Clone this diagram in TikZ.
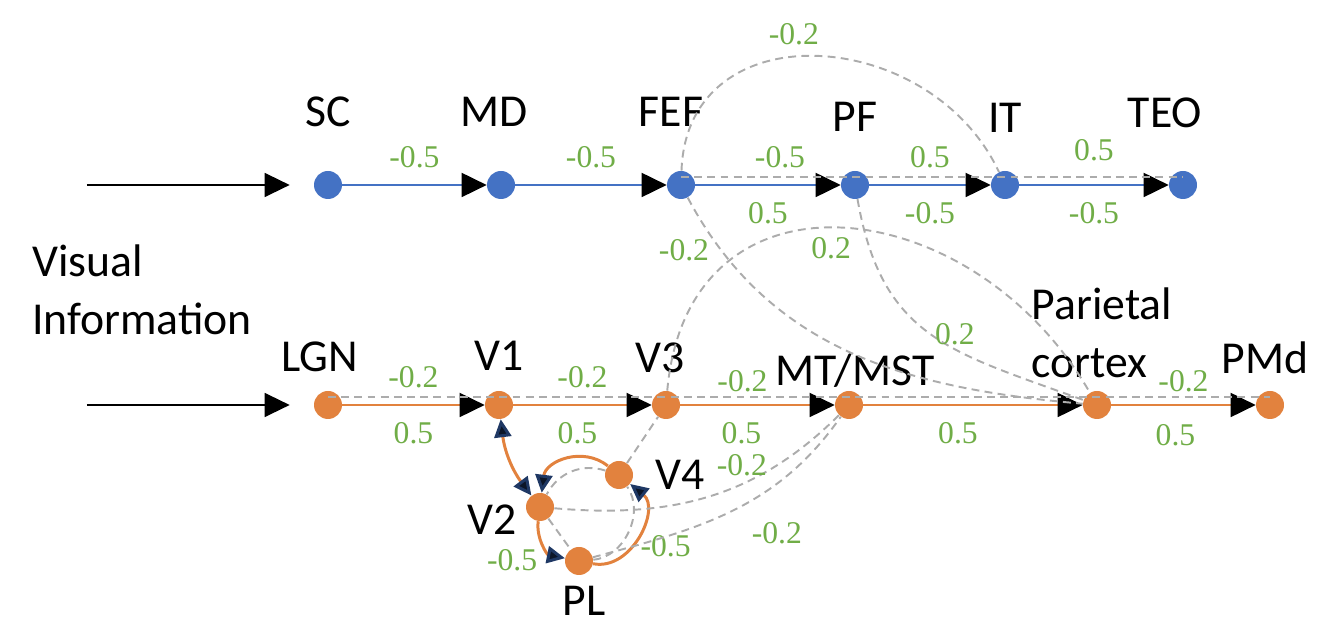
\documentclass[tikz,border=0pt]{standalone}
\usepackage{fontspec}
\setmainfont{Liberation Serif}
\newfontfamily\namefont{Carlito}
\newfontfamily\numfont{Liberation Serif}
\usepackage{tikz}
\usetikzlibrary{arrows.meta,positioning}
\definecolor{dotblue}{HTML}{4472C4}
\definecolor{dotorange}{HTML}{E2823E}
\definecolor{wtgreen}{HTML}{70AD47}
\definecolor{tipnavy}{HTML}{1F3864}
\tikzset{Nv/.tip={Triangle[length=0.36cm, width=0.34cm, color=tipnavy, fill=black!60!tipnavy]}}

\begin{document}
\begin{tikzpicture}[
  dotb/.style={circle, fill=dotblue, minimum size=0.56cm, inner sep=0pt},
  doto/.style={circle, fill=dotorange, minimum size=0.56cm, inner sep=0pt},
  area/.style={font=\namefont\fontsize{26}{33}\selectfont, inner sep=1pt},
  wt/.style={font=\numfont\fontsize{18}{20}\selectfont, text=wtgreen, inner sep=1pt},
  wu/.style={wt, yshift=0.56cm},
  wd/.style={wt, yshift=-0.56cm},
  fb/.style={draw=gray!65, dash pattern=on 4.5pt off 3pt, line width=1.1pt},
  blu/.style={draw=dotblue, line width=1.1pt, ->},
  org/.style={draw=dotorange, line width=1.1pt, ->},
  cyc/.style={draw=dotorange, line width=1.7pt, -Nv},
  >={Triangle[length=0.5cm, width=0.48cm, color=black]},
  on grid
]
\useasboundingbox (-6.56,3.70) rectangle (19.88,-9.10);

% dorsal row
\node[dotb] (sc) at (0,0) {};
\node[dotb, right=3.46cm of sc] (md) {};
\node[dotb, right=3.6cm of md] (fef) {};
\node[dotb, right=3.48cm of fef] (pf) {};
\node[dotb, right=3.0cm of pf] (it) {};
\node[dotb, right=3.56cm of it] (teo) {};

% ventral row and the V2/V4/PL loop
\node[doto, below=4.4cm of sc] (lgn) {};
\node[doto, right=3.42cm of lgn] (v1) {};
\node[doto, right=3.34cm of v1] (v3) {};
\node[doto, right=3.66cm of v3] (mt) {};
\node[doto, right=4.96cm of mt] (par) {};
\node[doto, right=3.46cm of par] (pmd) {};
\node[doto, below right=2.04cm and 0.82cm of v1] (v2) {};
\node[doto, above right=0.64cm and 1.58cm of v2] (v4) {};
\node[doto, below right=1.08cm and 0.78cm of v2] (pl) {};

% names
\node[area, above=1.46cm of sc] (scT) {SC};
\node[area, above=1.46cm of md, xshift=-0.14cm] (mdT) {MD};
\node[area, above=1.46cm of fef, xshift=-0.2cm] (fefT) {FEF};
\node[area, above=1.36cm of pf] (pfT) {PF};
\node[area, above=1.34cm of it] (itT) {IT};
\node[area, above=1.44cm of teo, xshift=-0.36cm] (teoT) {TEO};
\node[area, above=0.96cm of lgn, xshift=-0.16cm] (lgnT) {LGN};
\node[area, above=0.98cm of v1] (v1T) {V1};
\node[area, above=0.94cm of v3, xshift=-0.12cm] (v3T) {V3};
\node[area, above=0.68cm of mt, xshift=0.12cm] (mtT) {MT/MST};
\node[area, align=left, above=1.44cm of par, xshift=0.1cm] (parT) {Parietal\\cortex};
\node[area, above=0.94cm of pmd, xshift=-0.1cm] (pmdT) {PMd};
\node[area, left=0.96cm of v2, yshift=-0.26cm] (v2T) {V2};
\node[area, right=1.22cm of v4] (v4T) {V4};
\node[area, below=0.8cm of pl, xshift=0.1cm] (plT) {PL};
\node[area, align=left, anchor=west] (visT) at (-5.96,-2.1) {Visual\\Information};

% input
\coordinate[left=4.82cm of sc] (in1);
\coordinate[left=4.82cm of lgn] (in2);
\draw[->, line width=0.8pt, shorten >=0.48cm] (in1) -- (sc);
\draw[->, line width=0.8pt, shorten >=0.48cm] (in2) -- (lgn);

% feedforward
\draw[blu] (sc) -- node[wu] {-0.5} (md);
\draw[blu] (md) -- node[wu] {-0.5} (fef);
\draw[blu] (fef) -- node[wu, xshift=0.24cm] {-0.5} node[wd] {0.5} (pf);
\draw[blu] (pf) -- node[wu] {0.5} node[wd] {-0.5} (it);
\draw[blu] (it) -- node[wu, yshift=0.14cm] {0.5} node[wd] {-0.5} (teo);
\draw[org] (lgn) -- node[wu] {-0.2} node[wd] {0.5} (v1);
\draw[org] (v1) -- node[wu] {-0.2} node[wd, xshift=-0.1cm] {0.5} (v3);
\draw[org] (v3) -- node[wu, xshift=-0.3cm, yshift=-0.08cm] {-0.2} node[wd, xshift=-0.32cm] {0.5} (mt);
\draw[org] (mt) -- node[wd, xshift=-0.3cm] {0.5} (par);
\draw[org] (par) -- node[wu, yshift=-0.08cm] {-0.2} node[wd, xshift=-0.16cm, yshift=-0.04cm] {0.5} (pmd);

% loop
\draw[cyc, Nv-Nv] (v1) to[bend right=15] (v2);
\draw[cyc] (v4) to[bend right=61, looseness=1.15] (v2);
\draw[cyc] (v2) to[bend right=43] node[wt, xshift=-0.64cm, yshift=-0.3cm] {-0.5} (pl);
\draw[cyc] (pl) to[bend right=76, looseness=1.15] node[wt, xshift=0.56cm, yshift=-0.2cm] {-0.5} (v4);
\draw[fb] (v4) to[bend right=40] (v2);
\draw[fb] (v2) -- (pl);
\draw[fb] (pl) to[bend right=60] (v4);

% long-range links
\draw[fb] ([yshift=0.16cm]fef.center) -- ([yshift=0.16cm]teo.center);
\draw[fb] ([yshift=0.16cm]lgn.center) -- ([yshift=0.16cm]pmd.center);
\draw[fb] (fef) to[out=88, in=115, looseness=1.3] node[wt, pos=0.42, xshift=0.2cm, yshift=0.48cm] {-0.2} (it);
\draw[fb] (fef) to[out=-62, in=175] node[wt, pos=0.1, xshift=-0.6cm, yshift=-0.2cm] {-0.2} (par);
\draw[fb] (pf) to[out=-80, in=160, looseness=1.2] node[wt, pos=0.5, xshift=0.5cm] {0.2} (par);
\draw[fb] (v4) -- (v3);
\draw[fb] (v3) to[out=85, in=120, looseness=1.42] node[wt, pos=0.45, xshift=0.3cm, yshift=-0.4cm] {0.2} (par);
\draw[fb] (v2) to[out=-5, in=-135] node[wt, pos=0.62, yshift=0.38cm] {-0.2} (mt);
\draw[fb] (pl) to[out=15, in=-125] node[wt, pos=0.6, xshift=0.4cm, yshift=-0.72cm] {-0.2} (mt);
\end{tikzpicture}
\end{document}
